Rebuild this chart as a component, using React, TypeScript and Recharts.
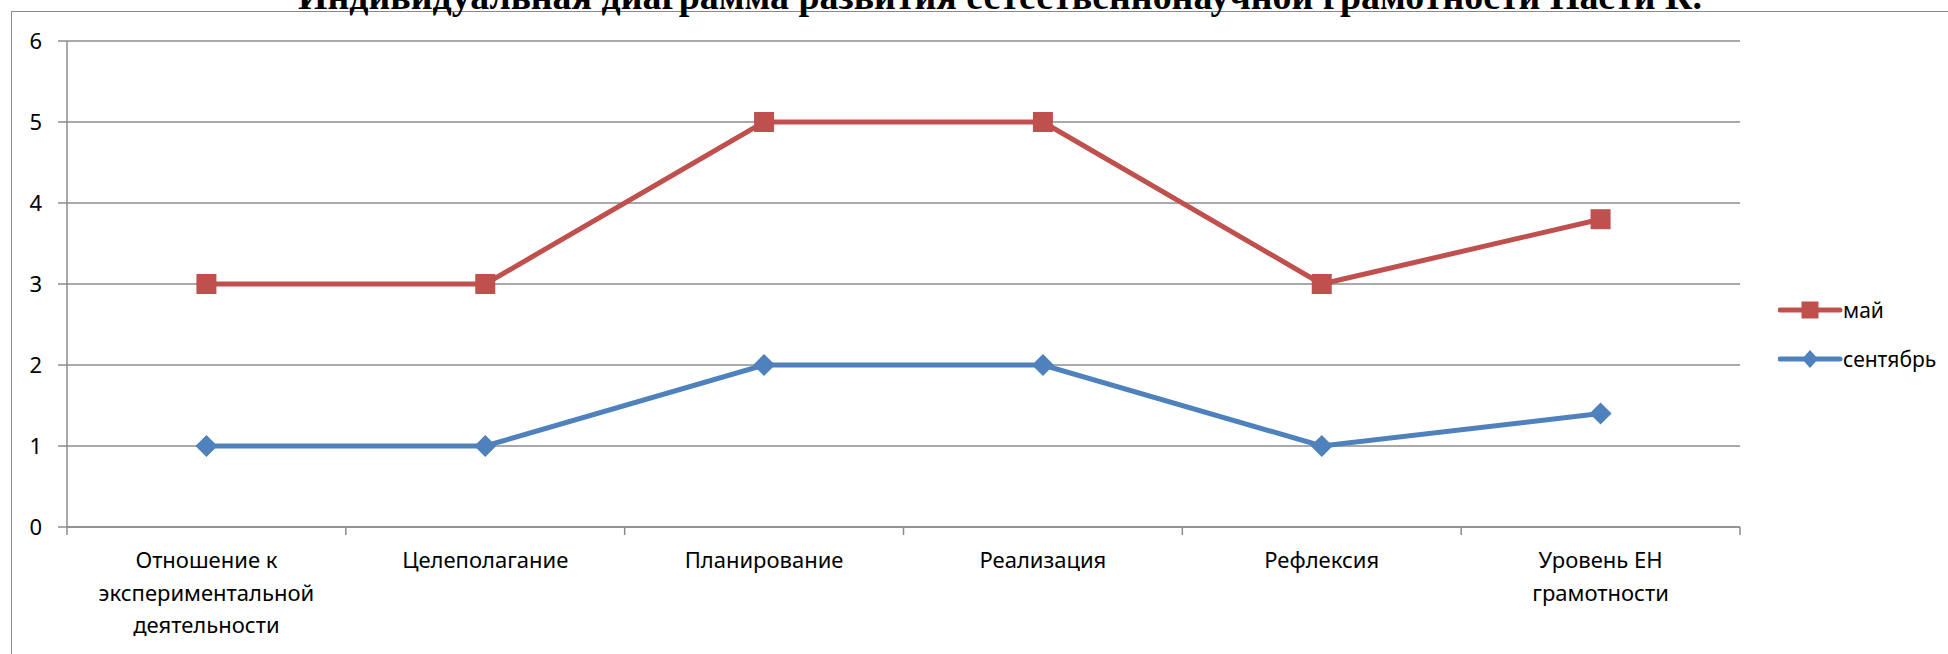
import React from "react";
import { LineChart, Line, XAxis, YAxis, CartesianGrid, Legend } from "recharts";

const categories = [
  "Отношение к экспериментальной деятельности",
  "Целеполагание",
  "Планирование",
  "Реализация",
  "Рефлексия",
  "Уровень ЕН грамотности",
];
const mayValues = [3, 3, 5, 5, 3, 3.8];
const septValues = [1, 1, 2, 2, 1, 1.4];
const yTicks = [0, 1, 2, 3, 4, 5, 6];
const seriesNames = { may: "май", sept: "сентябрь" };
const titleText = "Индивидуальная диаграмма развития естественнонаучной грамотности Насти К.";

const data = categories.map((c, i) => ({ name: c, may: mayValues[i], sept: septValues[i] }));

const W = 1948;
const H = 654;
const M = { top: 41, right: 208, bottom: 0, left: 0 };
const YW = 67;
const XH = 127;
const BAND = (W - M.left - M.right - YW) / categories.length;
const RED = "#C0504D";
const BLUE = "#4F81BD";
const GRID = "#8c8c8c";
const FONT = "'Noto Sans', sans-serif";

const labelLines: Record<string, string[]> = {
  "Отношение к экспериментальной деятельности": ["Отношение к", "экспериментальной", "деятельности"],
  "Уровень ЕН грамотности": ["Уровень ЕН", "грамотности"],
};

const XTick = (props: any) => {
  const { x, y, payload, index } = props;
  const lines = labelLines[payload.value] || [payload.value];
  return (
    <g>
      <line x1={x - BAND / 2} x2={x - BAND / 2} y1={y} y2={y + 8} stroke={GRID} strokeWidth={1.5} />
      {index === categories.length - 1 && (
        <line x1={x + BAND / 2} x2={x + BAND / 2} y1={y} y2={y + 8} stroke={GRID} strokeWidth={1.5} />
      )}
      <text x={x} y={y} textAnchor="middle" fontFamily={FONT} fontSize={22} fill="#000">
        {lines.map((l, i) => (
          <tspan key={i} x={x} dy={i === 0 ? 41 : 32.5}>
            {l}
          </tspan>
        ))}
      </text>
    </g>
  );
};

const SquareDot = (props: any) => {
  const { cx, cy, index } = props;
  if (cx == null || cy == null) return null;
  return <rect key={"s" + index} x={cx - 10} y={cy - 10} width={20} height={20} fill={RED} />;
};

const DiamondDot = (props: any) => {
  const { cx, cy, index } = props;
  if (cx == null || cy == null) return null;
  return (
    <polygon
      key={"d" + index}
      points={`${cx},${cy - 11} ${cx + 11},${cy} ${cx},${cy + 11} ${cx - 11},${cy}`}
      fill={BLUE}
    />
  );
};

const LegendContent = () => (
  <svg width={170} height={80}>
    <g>
      <line x1={2} x2={62} y1={16} y2={16} stroke={RED} strokeWidth={5} strokeLinecap="round" />
      <rect x={23.5} y={7.5} width={17} height={17} fill={RED} />
      <text x={65} y={24} fontFamily={FONT} fontSize={21} fill="#000">
        {seriesNames.may}
      </text>
    </g>
    <g>
      <line x1={2} x2={62} y1={65} y2={65} stroke={BLUE} strokeWidth={5} strokeLinecap="round" />
      <polygon points="32,56 40,65 32,74 24,65" fill={BLUE} />
      <text x={65} y={73} fontFamily={FONT} fontSize={21} fill="#000">
        {seriesNames.sept}
      </text>
    </g>
  </svg>
);

export default function App() {
  return (
    <div style={{ position: "absolute", left: 0, top: 0, width: W, height: H, overflow: "hidden", background: "#fff" }}>
      <div
        style={{
          position: "absolute",
          left: 11,
          top: 11,
          width: W,
          height: H,
          borderLeft: "1.5px solid #8a8a8a",
          borderTop: "1.5px solid #8a8a8a",
        }}
      />
      <svg style={{ position: "absolute", left: 0, top: 0 }} width={W} height={20}>
        <text
          x={1000}
          y={9}
          textAnchor="middle"
          fontFamily="'Liberation Serif', 'Times New Roman', serif"
          fontWeight="bold"
          fontSize={37}
          fill="#000"
          textLength={1404}
          lengthAdjust="spacingAndGlyphs"
        >
          {titleText}
        </text>
      </svg>
      <div style={{ position: "absolute", left: 0, top: 0 }}>
        <LineChart width={W} height={H} data={data} margin={M}>
          <CartesianGrid vertical={false} stroke={GRID} strokeWidth={1.5} />
          <XAxis
            dataKey="name"
            height={XH}
            interval={0}
            padding={{ left: BAND / 2, right: BAND / 2 }}
            tickLine={false}
            tickSize={0}
            tickMargin={0}
            axisLine={{ stroke: GRID, strokeWidth: 1.5 }}
            tick={<XTick />}
          />
          <YAxis
            width={YW}
            domain={[0, 6]}
            ticks={yTicks}
            interval={0}
            tickSize={9}
            tickMargin={16}
            axisLine={{ stroke: GRID, strokeWidth: 1.5 }}
            tickLine={{ stroke: GRID, strokeWidth: 1.5 }}
            tick={{ fontFamily: FONT, fontSize: 22, fill: "#000" }}
          />
          <Line
            dataKey="may"
            name={seriesNames.may}
            stroke={RED}
            strokeWidth={5}
            dot={<SquareDot />}
            activeDot={false}
            isAnimationActive={false}
          />
          <Line
            dataKey="sept"
            name={seriesNames.sept}
            stroke={BLUE}
            strokeWidth={5}
            dot={<DiamondDot />}
            activeDot={false}
            isAnimationActive={false}
          />
          <Legend
            layout="vertical"
            align="center"
            verticalAlign="middle"
            content={<LegendContent />}
            wrapperStyle={{ left: 1778, top: 294, width: 170, height: 80 }}
          />
        </LineChart>
      </div>
    </div>
  );
}
